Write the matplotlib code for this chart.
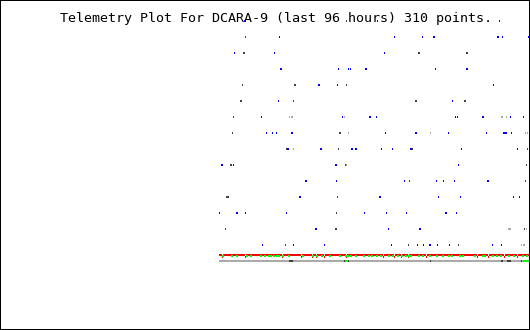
import numpy as np
import matplotlib
matplotlib.use('Agg')
import matplotlib.pyplot as plt

TITLE = 'Telemetry Plot For DCARA-9 (last 96 hours) 310 points.'
N_POINTS = 310

# telemetry hits: (point index, channel, samples)
blue_hits = [
    (25, 15, 2), (158, 15, 1), (280, 15, 1),
    (60, 14, 1), (175, 14, 1), (203, 14, 1), (214, 14, 2), (278, 14, 2), (283, 14, 1), (309, 14, 1),
    (15, 13, 1), (55, 13, 1), (165, 13, 1),
    (61, 12, 2), (119, 12, 1), (129, 12, 1), (131, 12, 1), (146, 12, 2), (216, 12, 1), (247, 12, 2),
    (99, 11, 2), (118, 11, 1), (274, 11, 1),
    (59, 10, 1), (233, 10, 1),
    (42, 9, 1), (123, 9, 1), (150, 9, 2), (157, 9, 1), (236, 9, 1), (238, 9, 1), (263, 9, 2),
    (291, 9, 1), (304, 9, 1),
    (47, 8, 1), (53, 8, 1), (57, 8, 1), (72, 8, 2), (166, 8, 1), (196, 8, 2), (229, 8, 1),
    (267, 8, 1), (284, 8, 4), (292, 8, 1),
    (68, 7, 2), (101, 7, 2), (132, 7, 2), (136, 7, 2), (162, 7, 1), (173, 7, 1), (191, 7, 2),
    (242, 7, 1), (298, 7, 1),
    (2, 6, 2), (14, 6, 1), (116, 6, 2), (239, 6, 1),
    (86, 5, 2), (117, 5, 1), (185, 5, 1), (217, 5, 1), (224, 5, 1), (235, 5, 1), (268, 5, 2),
    (80, 4, 2), (160, 4, 2), (219, 4, 1), (241, 4, 1), (294, 4, 1), (300, 4, 1),
    (0, 3, 1), (17, 3, 2), (26, 3, 1), (67, 3, 1), (145, 3, 1), (167, 3, 1), (187, 3, 1),
    (226, 3, 2), (237, 3, 1),
    (96, 2, 2), (169, 2, 1), (200, 2, 2),
    (43, 1, 1), (74, 1, 1), (105, 1, 1), (172, 1, 1), (198, 1, 1), (204, 1, 1), (210, 1, 2),
    (218, 1, 1), (230, 1, 1), (273, 1, 1), (282, 1, 1),
]
dark_hits = [
    (127, 15, 1),
    (26, 14, 1),
    (24, 13, 2), (199, 13, 2), (247, 13, 2),
    (23, 11, 1), (75, 11, 2), (127, 11, 1),
    (21, 10, 2), (74, 10, 1), (196, 10, 2), (245, 10, 2),
    (14, 9, 1),
    (13, 8, 1), (120, 8, 2),
    (67, 7, 1), (119, 7, 1), (193, 7, 1), (308, 7, 1),
    (11, 6, 2), (126, 6, 1), (307, 6, 1),
    (190, 5, 1), (306, 5, 1),
    (7, 4, 3), (118, 4, 1),
    (117, 3, 1),
    (6, 2, 1), (116, 2, 2), (305, 2, 1),
    (66, 1, 1), (189, 1, 1), (239, 1, 1),
]
light_hits = [
    (70, 9, 1), (72, 9, 2), (125, 9, 1), (282, 9, 2), (287, 9, 1),
    (129, 8, 1), (211, 8, 1), (306, 8, 1), (308, 8, 1),
    (74, 7, 1),
    (127, 6, 1),
    (289, 2, 3), (307, 2, 1),
    (302, 1, 1), (304, 1, 2),
]

# red trace near the floor, with the points where it reads lower
red_high = 0.375
red_low = 0.25
red_dips = [3, 26, 63, 82, 93, 97, 105, 127, 164, 175, 182, 189, 207, 258, 269, 285, 298]

green_level = 0.3125
green_hits = [3, 12, 17, 27, 31, 41, 45, 49, 51, 54, 57, 59, 63, 69, 83, 93, 97, 102, 110,
              120, 126, 128, 131, 136, 144, 149, 152, 157, 161, 169, 173, 178, 182, 186, 189,
              191, 199, 203, 210, 217, 223, 229, 232, 240, 243, 255, 263, 265, 273, 277, 281,
              289, 294, 303, 307]

# baseline strip colouring
base_dark = [70, 71, 72, 73, 125, 129, 211, 282, 283, 288, 289, 290, 291, 302]
base_green = [74, 126, 127, 304, 305, 306, 307, 308, 309]

BLUE = '#0000ff'
DARK = '#404040'
LIGHT = '#aaaaaa'
RED = '#ff0000'
GREEN = '#00ff00'
DOT_H = 0.125


def draw_hits(ax, hits, color):
    pts = np.array(hits, dtype=float)
    ax.bar(pts[:, 0] - 0.5, DOT_H, width=pts[:, 2], bottom=pts[:, 1] - DOT_H / 2,
           align='edge', color=color, linewidth=0, antialiased=False)


fig = plt.figure(figsize=(5.3, 3.3), dpi=100)
# black frame round the whole picture (half of a 2px edge lands inside)
fig.patch.set_edgecolor('black')
fig.patch.set_linewidth(1.44)

ax = fig.add_axes([219 / 530, 61 / 330, 310 / 530, 256 / 330])
ax.set_xlim(-0.5, N_POINTS - 0.5)
ax.set_ylim(-0.5, 15.5)
ax.axis('off')

idx = np.arange(N_POINTS)

# baseline strip
base_colors = np.array([LIGHT] * N_POINTS, dtype=object)
base_colors[base_dark] = DARK
base_colors[base_green] = GREEN
ax.bar(idx - 0.5, DOT_H, width=1, bottom=-DOT_H / 2, align='edge',
       color=list(base_colors), linewidth=0, antialiased=False)

# red trace + green samples on it
red = np.full(N_POINTS, red_high)
red[red_dips] = red_low
ax.bar(idx - 0.5, DOT_H, width=1, bottom=red - DOT_H / 2, align='edge',
       color=RED, linewidth=0, antialiased=False)
g = np.array(green_hits, dtype=float)
ax.bar(g - 0.5, DOT_H, width=2, bottom=green_level - DOT_H / 2, align='edge',
       color=GREEN, linewidth=0, antialiased=False)

draw_hits(ax, light_hits, LIGHT)
draw_hits(ax, dark_hits, DARK)
draw_hits(ax, blue_hits, BLUE)

fig.text(60 / 530, 1 - 22 / 330, TITLE, family='DejaVu Sans Mono', fontsize=9.6,
         ha='left', va='baseline', color='black', zorder=-1)

fig.savefig('out.png', dpi=100, edgecolor='black')
